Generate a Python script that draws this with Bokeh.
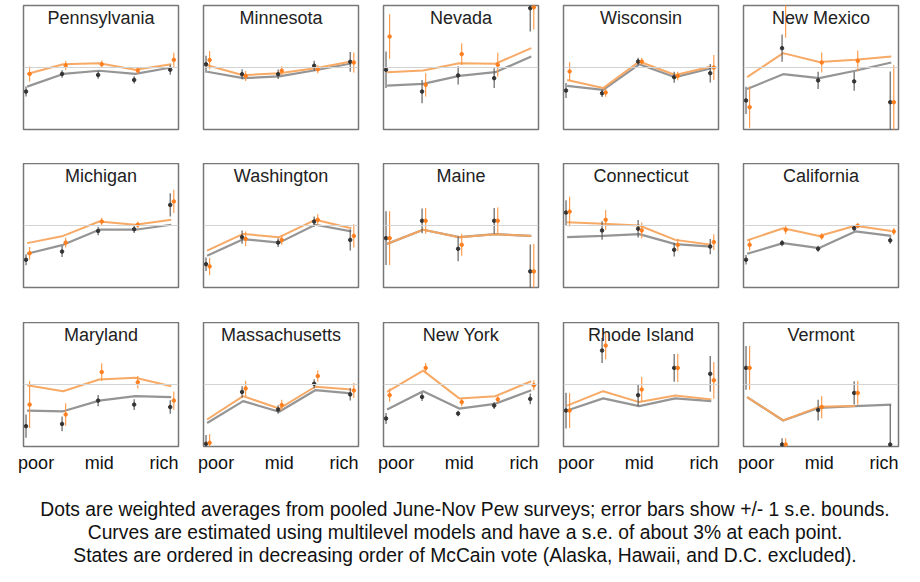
import math
from bokeh.plotting import figure
from bokeh.layouts import row, column
from bokeh.models import Span, Label, Div, FixedTicker
from bokeh.embed import file_html
from bokeh.resources import INLINE

NaN = float("nan")

states = ["Pennsylvania", "Minnesota", "Nevada", "Wisconsin", "New Mexico",
          "Michigan", "Washington", "Maine", "Connecticut", "California",
          "Maryland", "Massachusetts", "New York", "Rhode Island", "Vermont"]
income = [1, 2, 3, 4, 5]
tick_pos = [1.25, 3.0, 4.8]
tick_labels = ["poor", "mid", "rich"]

# values in percent
curve_gray = [
    [42.3, 47.4, 48.7, 47.4, 50.0],
    [48.3, 45.7, 46.4, 48.9, 51.6],
    [42.7, 43.4, 46.6, 48.1, 54.4],
    [42.6, 41.0, 51.3, 46.1, 49.7],
    [41.3, 47.3, 45.7, 48.7, 52.0],
    [38.6, 42.2, 48.3, 48.3, 50.3],
    [37.8, 44.5, 43.1, 50.3, 47.6],
    [42.6, 48.3, 45.3, 46.5, 45.8],
    [45.3, 45.8, 46.5, 42.5, 41.5],
    [38.6, 42.9, 40.9, 47.6, 45.8],
    [39.5, 39.2, 43.5, 45.3, 44.9],
    [34.5, 43.3, 39.0, 47.7, 46.4],
    [39.9, 47.3, 40.3, 42.2, 47.7],
    [39.5, 44.4, 41.3, 44.4, 43.3],
    [44.9, 35.5, 40.6, 41.3, 41.9],
]
curve_orange = [
    [47.4, 51.3, 51.7, 49.1, 51.3],
    [50.9, 46.9, 47.7, 49.7, 52.4],
    [48.1, 48.8, 51.7, 51.5, 57.8],
    [45.0, 41.7, 52.4, 47.0, 50.4],
    [46.1, 55.8, 52.2, 53.1, 54.4],
    [42.9, 45.8, 51.6, 50.3, 52.3],
    [39.9, 46.6, 45.3, 52.3, 48.9],
    [42.6, 48.3, 45.3, 46.5, 45.8],
    [51.3, 50.7, 50.0, 44.2, 42.2],
    [44.0, 48.9, 45.8, 49.9, 47.8],
    [49.7, 47.3, 52.0, 52.7, 49.3],
    [35.9, 45.3, 40.3, 49.1, 48.0],
    [47.0, 55.6, 44.4, 45.3, 51.3],
    [41.5, 47.3, 42.9, 45.6, 44.0],
    [44.9, 35.5, 41.0, 41.3, NaN],
]
dots_black = [
    [40.3, 47.4, 47.0, 45.0, 49.1],
    [51.3, 47.3, 47.3, 50.7, 52.3],
    [49.1, 40.3, 46.8, 45.7, 73.9],
    [40.7, 39.6, 52.4, 46.1, 47.7],
    [36.7, 57.8, 44.8, 44.4, 36.0],
    [36.2, 39.5, 47.8, 48.5, 58.3],
    [34.4, 45.3, 43.1, 51.6, 44.2],
    [44.9, 51.9, 40.6, 51.9, 31.5],
    [55.2, 48.0, 48.7, 40.2, 41.5],
    [36.2, 42.9, 40.6, 48.9, 44.0],
    [33.2, 34.1, 43.5, 41.9, 40.9],
    [26.1, 47.0, 39.9, 50.3, 46.0],
    [36.3, 45.0, 38.3, 41.5, 44.2],
    [39.5, 63.7, 45.7, 56.7, 54.3],
    [56.7, 25.8, 39.7, 46.6, 25.8],
]
se_black = [
    [2.0, 1.5, 1.5, 1.5, 2.0],
    [3.4, 2.0, 1.9, 2.0, 4.0],
    [7.4, 4.7, 3.7, 4.0, 9.4],
    [3.0, 1.5, 1.5, 2.2, 3.7],
    [5.5, 5.5, 3.5, 3.8, 12.4],
    [2.2, 2.2, 1.7, 1.5, 4.7],
    [2.7, 2.7, 1.8, 2.0, 4.3],
    [10.8, 5.0, 5.0, 5.2, 10.8],
    [5.0, 3.7, 3.5, 2.7, 3.1],
    [1.9, 1.3, 1.2, 1.1, 1.4],
    [4.7, 3.0, 2.3, 2.2, 2.7],
    [3.5, 2.3, 1.7, 1.8, 2.5],
    [2.2, 1.7, 1.1, 1.4, 2.2],
    [7.2, 5.0, 4.5, 5.6, 7.2],
    [8.8, 2.5, 4.2, 4.7, 16.0],
]
dots_orange = [
    [47.4, 50.8, 51.3, 48.8, 53.1],
    [53.0, 46.6, 48.7, 49.3, 52.0],
    [62.5, 43.0, 55.4, 51.1, 74.3],
    [48.4, 39.9, 52.4, 46.6, 50.0],
    [34.0, 76.0, 52.0, 52.7, 36.0],
    [38.8, 43.1, 51.6, 50.3, 59.7],
    [33.5, 44.6, 44.2, 52.3, 45.8],
    [44.9, 51.9, 42.2, 51.9, 31.5],
    [55.6, 52.3, 48.0, 42.2, 43.3],
    [42.2, 48.3, 45.6, 49.9, 47.6],
    [41.9, 37.9, 55.0, 50.9, 43.5],
    [26.5, 48.4, 41.7, 53.4, 47.6],
    [45.7, 56.7, 42.9, 44.0, 49.7],
    [39.5, 65.7, 48.0, 56.7, 51.7],
    [56.7, 25.8, 40.9, 46.6, NaN],
]
se_orange = [
    [3.0, 1.8, 1.5, 1.3, 2.8],
    [3.7, 2.0, 1.8, 1.6, 4.0],
    [9.0, 4.7, 4.4, 4.8, 9.0],
    [3.7, 1.7, 1.4, 1.7, 5.0],
    [8.3, 14.0, 4.0, 4.2, 15.0],
    [2.5, 2.0, 1.5, 1.3, 4.7],
    [3.5, 3.0, 2.0, 2.2, 4.7],
    [10.8, 5.2, 4.4, 5.4, 11.0],
    [6.0, 4.0, 3.2, 2.5, 3.2],
    [2.3, 1.7, 1.3, 1.0, 1.4],
    [9.4, 4.5, 3.6, 2.5, 3.7],
    [3.5, 3.0, 2.2, 2.3, 3.0],
    [2.7, 2.0, 1.7, 1.4, 2.0],
    [7.0, 5.5, 5.0, 5.7, 7.4],
    [8.8, 2.5, 4.5, 4.8, NaN],
]

caption_lines = [
    "Dots are weighted averages from pooled June-Nov Pew surveys; error bars show +/- 1 s.e. bounds.",
    "Curves are estimated using multilevel models and have a s.e. of about 3% at each point.",
    "States are ordered in decreasing order of McCain vote (Alaska, Hawaii, and D.C. excluded).",
]

FONT = "Liberation Sans"
GRAY_LINE = "#959595"
ORANGE_LINE = "#f7a45e"
ORANGE_DOT = "#ff7f1e"
ORANGE_BAR = "#ff9440"
BLACK_DOT = "#333333"
BLACK_BAR = "#555555"

heights = [163, 159, 171]
tops = [5, 0, 0]
bottoms = [34, 35, 47]


def make_panel(i):
    r = i // 5
    p = figure(width=180, height=heights[r], x_range=(0.9, 5.2), y_range=(25, 75),
               output_backend="svg", toolbar_location=None,
               min_border_left=23, min_border_right=2, min_border_top=tops[r],
               min_border_bottom=bottoms[r])
    p.grid.visible = False
    p.yaxis.visible = False
    p.outline_line_color = "#777777"
    p.outline_line_width = 1.5
    p.background_fill_color = "white"
    if r == 2:
        ax = p.xaxis[0]
        ax.ticker = FixedTicker(ticks=tick_pos)
        ax.major_label_overrides = dict(zip(tick_pos, tick_labels))
        ax.axis_line_color = None
        ax.major_tick_line_color = None
        ax.minor_tick_line_color = None
        ax.major_label_standoff = 0
        ax.major_label_text_font = FONT
        ax.major_label_text_font_size = "18px"
        ax.major_label_text_color = "#111111"
    else:
        p.xaxis.visible = False

    p.add_layout(Span(location=50, dimension="width", line_color="#d3d3d3", line_width=1))

    xb = [x - 0.03 for x in income]
    xo = [x + 0.07 for x in income]
    yb, sb = dots_black[i], se_black[i]
    yo, so = dots_orange[i], se_orange[i]

    p.line(income, curve_gray[i], line_color=GRAY_LINE, line_width=2.2)
    p.line(income, curve_orange[i], line_color=ORANGE_LINE, line_width=2, line_alpha=0.95)

    p.segment(xb, [y - s for y, s in zip(yb, sb)], xb, [y + s for y, s in zip(yb, sb)],
              line_color=BLACK_BAR, line_width=1.1)
    p.segment(xo, [y - s for y, s in zip(yo, so)], xo, [y + s for y, s in zip(yo, so)],
              line_color=ORANGE_BAR, line_width=1.1)
    p.scatter(xb, yb, size=3.5, color=BLACK_DOT)
    p.scatter(xo, yo, size=3.5, color=ORANGE_DOT)

    p.add_layout(Label(x=3.05, y=75, text=states[i], text_align="center",
                       text_baseline="top", y_offset=-2, text_font=FONT,
                       text_font_size="18px", text_color="#222222"))
    return p


figs = [make_panel(i) for i in range(15)]

caption = Div(text="<br>".join(caption_lines), width=920, height=72,
              styles={"text-align": "center", "font-family": FONT,
                      "font-size": "19.3px", "line-height": "23px", "color": "#111111"})

layout = column(row(*figs[0:5]), row(*figs[5:10]), row(*figs[10:15]), caption)

open("out.html", "w").write(file_html(layout, INLINE))
